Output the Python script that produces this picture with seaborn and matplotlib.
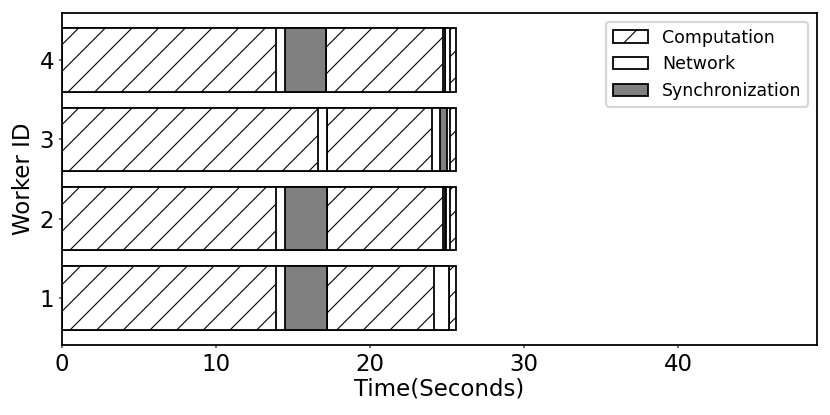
import numpy as np
import pandas as pd
import matplotlib
matplotlib.use("Agg")
import matplotlib.pyplot as plt
import matplotlib.patches as mpatches
import seaborn as sns

# phases of one run, in time order
phases = ['Computation', 'Network', 'Synchronization', 'Network',
          'Computation', 'Network', 'Synchronization', 'Network', 'Computation']
workers = ['4', '3', '2', '1']

# seconds spent in each phase (same order as phases)
w1 = [13.9, 0.58, 2.70, 0.0, 6.98, 0.99, 0.0, 0.0, 0.45]
w2 = [13.9, 0.55, 2.73, 0.0, 7.52, 0.17, 0.08, 0.25, 0.40]
w3 = [16.64, 0.54, 0.0, 0.0, 6.82, 0.55, 0.47, 0.18, 0.40]
w4 = [13.9, 0.55, 2.70, 0.0, 7.55, 0.17, 0.0, 0.33, 0.40]

styles = {
    'Computation': dict(color='white', hatch='//'),
    'Network': dict(color='white', hatch=''),
    'Synchronization': dict(color='gray', hatch=''),
}

durations = pd.DataFrame([w4, w3, w2, w1], index=workers)
ends = durations.cumsum(axis=1)

plt.rcParams['hatch.linewidth'] = 0.5
plt.rcParams['hatch.color'] = 'black'

fig = plt.figure(figsize=(830 / 160, 415 / 160), dpi=160)
ax = fig.add_axes([0.0747, 0.1687, 0.9096, 0.80])

# draw stacked bars back to front: each bar runs from 0 to its cumulative end
for k in range(len(phases) - 1, -1, -1):
    st = styles[phases[k]]
    sns.barplot(x=ends[k].values, y=workers, order=workers, orient='h',
                color=st['color'], hatch=st['hatch'], saturation=1,
                edgecolor='black', linewidth=0.8, errorbar=None, ax=ax)

ax.set_xlim(0, 49)
ax.set_ylim(3.59, -0.59)
ax.set_xlabel('Time(Seconds)', fontsize=10.3, labelpad=1)
ax.set_ylabel('Worker ID', fontsize=10.3, labelpad=2)
ax.tick_params(labelsize=10.3, color='0.4', length=1.5, pad=2)

handles = [mpatches.Patch(facecolor=styles[p]['color'], hatch=styles[p]['hatch'],
                          edgecolor='black', linewidth=0.8, label=p)
           for p in ['Computation', 'Network', 'Synchronization']]
ax.legend(handles=handles, loc='upper right', fontsize=7.8)

fig.savefig('out.png', dpi=160)
